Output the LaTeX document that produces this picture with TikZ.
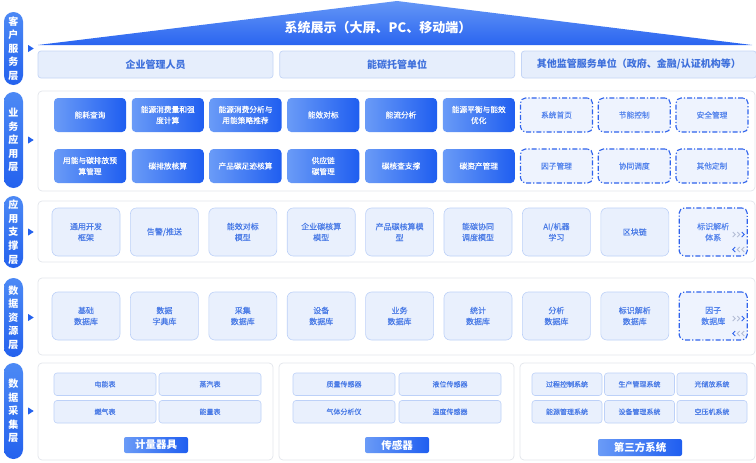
\documentclass[tikz,border=0pt]{standalone}
\usepackage{fontspec}
\newfontfamily\cjk{Noto Sans CJK SC}
\newfontfamily\cjkm{Noto Sans CJK SC}[FakeBold=0.35]
\usetikzlibrary{positioning,calc}
\definecolor{pilltop}{HTML}{4C89F5}
\definecolor{pillbot}{HTML}{2462EE}
\definecolor{bantop}{HTML}{6496F6}
\definecolor{banbot}{HTML}{2A65F0}
\definecolor{boxlt}{HTML}{6A9BF7}
\definecolor{boxdk}{HTML}{1F5EF0}
\definecolor{palefill}{HTML}{E9F0FD}
\definecolor{paleline}{HTML}{BDD1F8}
\definecolor{paletext}{HTML}{4A7BE6}
\definecolor{dashfill}{HTML}{EEF3FE}
\definecolor{dashline}{HTML}{2F63EC}
\definecolor{dashtext}{HTML}{5282EC}
\definecolor{userfill}{HTML}{E6EEFC}
\definecolor{userline}{HTML}{C4D5F6}
\definecolor{usertext}{HTML}{3E70DC}
\definecolor{frameline}{HTML}{E3E6EC}
\definecolor{chevgray}{HTML}{B4BED6}
\begin{document}
\begin{tikzpicture}[x=1pt, y=-1pt,
        pill/.style={rounded corners=9.5pt, top color=pilltop, bottom color=pillbot,
          text=white, minimum width=19pt, inner sep=0pt, align=center,
          font=\cjk\bfseries\fontsize{10}{13.6}\selectfont},
        frame/.style={draw=frameline, fill=white, line width=0.7pt, rounded corners=4pt},
        userbox/.style={draw=userline, fill=userfill, line width=0.7pt, rounded corners=3pt,
          minimum width=235pt, minimum height=27pt, text=usertext,
          font=\cjk\bfseries\fontsize{10}{12}\selectfont},
        appbox/.style={align=center, inner sep=0pt, minimum width=72pt, minimum height=34pt,
          font=\cjkm\fontsize{7.7}{11}\selectfont},
        sbox/.style={appbox, rounded corners=4pt, left color=boxlt, right color=boxdk, text=white},
        dbox/.style={fill=dashfill, draw=dashline, line width=1.1pt,
          dash pattern=on 5pt off 2pt on 1.2pt off 2pt, rounded corners=5pt, text=dashtext},
        pbox/.style={fill=palefill, draw=paleline, line width=0.6pt, rounded corners=6pt,
          text=paletext, align=center, inner sep=0pt, minimum width=68pt, minimum height=48pt,
          font=\cjkm\fontsize{8}{11}\selectfont},
        accbox/.style={pbox, rounded corners=3pt, minimum width=102pt, minimum height=22.5pt,
          font=\cjkm\fontsize{7}{9}\selectfont},
        btn/.style={rounded corners=2pt, left color=boxlt, right color=boxdk, text=white,
          inner sep=0pt, font=\cjk\bfseries\fontsize{10.5}{12}\selectfont}
        ]
        \path[use as bounding box, fill=white] (0,0) rectangle (756,463);
        % layer labels
        \node[pill, minimum height=73pt] (L1) at (13.5,48.5) {客\\户\\服\\务\\层};
        \node[pill, minimum height=96pt] (L2) at (13.5,140) {业\\务\\应\\用\\层};
        \node[pill, minimum height=72pt] (L3) at (13.5,232) {应\\用\\支\\撑\\层};
        \node[pill, minimum height=79pt] (L4) at (13.5,317.5) {数\\据\\资\\源\\层};
        \node[pill, minimum height=96pt] (L5) at (13.5,411) {数\\据\\采\\集\\层};
        \foreach \l in {L1,L2,L3,L4,L5}
          \fill[pillbot] ([xshift=5pt, yshift=3.5pt]\l.east) -- ++(5.5,3.5) -- ++(-5.5,3.5) -- cycle;
        % frames
        \draw[frame] (38,91) rectangle (755,191);
        \draw[frame] (38,201) rectangle (755,262);
        \draw[frame] (38,278) rectangle (755,355);
        \draw[frame] (38,363) rectangle (273,460);
        \draw[frame] (279,363) rectangle (514,460);
        \draw[frame] (520,363) rectangle (755,460);
        % client layer
        \shade[top color=bantop, bottom color=banbot] (38,45) -- (397,1) -- (752,45) -- cycle;
        \node[text=white, font=\cjk\bfseries\fontsize{13}{15}\selectfont] (title) at (378,28)
          {系统展示（大屏、PC、移动端）};
        \node[userbox] (U1) at (155.5,64.5) {企业管理人员};
        \node[userbox, right=6pt of U1] (U2) {能碳托管单位};
        \node[userbox, right=6pt of U2] (U3) {其他监管服务单位（政府、金融/认证机构等）};
        % business layer
        \foreach \t [count=\i] in {能耗查询, {能源消费量和强\\度计算}, {能源消费分析与\\用能策略推荐},
            能效对标, 能流分析, {能源平衡与能效\\优化}}
          \node[sbox] (a-\i) at ({90+(\i-1)*77.75},115) {\t};
        \foreach \t [count=\i] in {{用能与碳排放预\\算管理}, 碳排放核算, 产品碳足迹核算,
            {供应链\\碳管理}, 碳核查支撑, 碳资产管理}
          \node[sbox] (b-\i) at ({90+(\i-1)*77.75},166) {\t};
        \foreach \t [count=\i from 7] in {系统首页, 节能控制, 安全管理}
          \node[appbox, dbox] (a-\i) at ({90+(\i-1)*77.75},115) {\t};
        \foreach \t [count=\i from 7] in {因子管理, 协同调度, 其他定制}
          \node[appbox, dbox] (b-\i) at ({90+(\i-1)*77.75},166) {\t};
        % support layer
        \foreach \t [count=\i] in {{通用开发\\框架}, 告警/推送, {能效对标\\模型}, {企业碳核算\\模型},
            {产品碳核算模\\型}, {能碳协同\\调度模型}, {AI/机器\\学习}, 区块链}
          \node[pbox] (s-\i) at ({86+(\i-1)*78.4},232) {\t};
        \node[pbox, dbox] (s-9) at ({86+8*78.4},232) {标识解析\\体系};
        % data resource layer
        \foreach \t [count=\i] in {{基础\\数据库}, {数据\\字典库}, {采集\\数据库}, {设备\\数据库},
            {业务\\数据库}, {统计\\数据库}, {分析\\数据库}, {标识解析\\数据库}}
          \node[pbox] (d-\i) at ({86+(\i-1)*78.4},316) {\t};
        \node[pbox, dbox] (d-9) at ({86+8*78.4},316) {因子\\数据库};
        \foreach \n in {s-9,d-9} {
          \foreach \i/\c in {0/chevgray,1/chevgray,2/dashline}
            \draw[\c, line width=0.9pt] ([xshift={-15pt+\i*4.5pt}, yshift=24.5pt]\n.south east) -- ++(2.5,2.5) -- ++(-2.5,2.5);
          \foreach \i/\c in {0/dashline,1/chevgray,2/chevgray}
            \draw[\c, line width=0.9pt] ([xshift={-12.5pt+\i*4.5pt}, yshift=9.5pt]\n.south east) -- ++(-2.5,2.5) -- ++(2.5,2.5);
        }
        % acquisition layer
        \foreach \t/\x/\y [count=\i] in {电能表/105/384.25, 蒸汽表/210/384.25, 燃气表/105/411.75, 能量表/210/411.75}
          \node[accbox] (m-\i) at (\x,\y) {\t};
        \foreach \t/\x/\y [count=\i] in {质量传感器/344/384.25, 液位传感器/450/384.25,
            气体分析仪/344/411.75, 温度传感器/450/411.75}
          \node[accbox] (t-\i) at (\x,\y) {\t};
        \foreach \t/\x/\y [count=\i] in {过程控制系统/567/384.25, 生产管理系统/639.5/384.25, 光储放系统/712/384.25,
            能源管理系统/567/411.75, 设备管理系统/639.5/411.75, 空压机系统/712/411.75}
          \node[accbox, minimum width=70pt] (e-\i) at (\x,\y) {\t};
        \node[btn, minimum width=64pt, minimum height=16pt] (B1) at (156,445) {计量器具};
        \node[btn, minimum width=64pt, minimum height=16pt] (B2) at (397,445) {传感器};
        \node[btn, minimum width=84pt, minimum height=17pt] (B3) at (640,447.5) {第三方系统};
\end{tikzpicture}
\end{document}
